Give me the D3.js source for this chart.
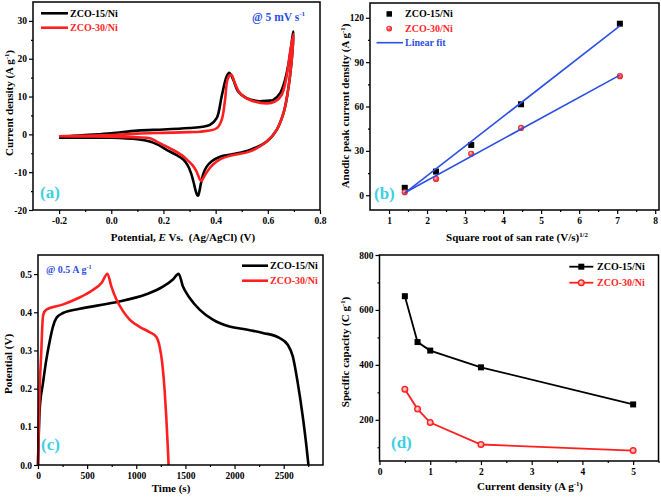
<!DOCTYPE html>
<html><head><meta charset="utf-8">
<script src="https://cdn.jsdelivr.net/npm/d3@7"></script>
<style>
html,body{margin:0;padding:0;background:#fff;}
svg{display:block;}
text{font-family:"Liberation Serif","Times New Roman",serif;font-weight:bold;white-space:pre;}
</style></head>
<body>
<script>
// ---------- DATA ----------
// (a) Cyclic voltammetry @ 5 mV/s (loop: anodic -0.2 -> 0.7, then cathodic 0.7 -> -0.2)
const cvE15 = [-0.2,-0.1,0.0,0.1,0.2,0.3,0.35,0.378,0.404,0.423,0.442,0.452,0.46,0.468,0.487,0.519,0.56,0.6,0.621,0.647,0.666,0.682,0.698,
               0.69,0.675,0.66,0.634,0.596,0.532,0.468,0.417,0.385,0.365,0.352,0.343,0.337,0.333,0.329,0.323,0.316,0.306,0.293,0.275,0.251,0.212,0.18,0.148,0.1,0.0,-0.1,-0.2];
const cvI15 = [-0.7,-0.2,0.3,1.0,1.3,1.7,2.0,2.5,4.3,10.0,15.3,16.3,15.6,14.4,11.3,9.55,8.8,8.9,9.1,10.9,14.4,19.7,27.2,
               18.5,10.5,5.6,1.2,-1.9,-4.1,-5.2,-5.9,-7.1,-8.6,-10.6,-13.2,-15.3,-16.2,-16.0,-14.8,-12.8,-10.3,-8.2,-6.6,-5.5,-4.1,-2.8,-1.9,-1.3,-0.9,-0.9,-0.9];
const cvE30 = [-0.2,-0.1,0.0,0.1,0.2,0.3,0.34,0.404,0.423,0.436,0.445,0.455,0.462,0.474,0.493,0.532,0.596,0.627,0.653,0.672,0.685,0.698,
               0.69,0.675,0.66,0.634,0.596,0.532,0.468,0.417,0.391,0.372,0.358,0.35,0.345,0.34,0.334,0.325,0.312,0.295,0.27,0.225,0.174,0.148,0.1,0.0,-0.1,-0.2];
const cvI30 = [-0.5,-0.35,-0.2,0.2,0.4,0.6,0.7,1.6,3.8,9.1,14.4,15.7,15.6,13.5,10.9,9.1,8.2,8.65,10.4,15.3,21.5,26.5,
               18.5,10.5,5.6,1.2,-1.9,-4.5,-5.45,-6.6,-7.9,-9.4,-10.9,-11.9,-12.3,-12.0,-11.0,-9.6,-8.2,-7.0,-5.5,-3.7,-1.9,-1.0,-0.8,-0.6,-0.55,-0.5];

// (b) Anodic peak current vs square root of scan rate
const sqrtRate = [1.414,2.236,3.162,4.472,7.071];
const ipa15 = [5,16,34,61.5,116];
const ipa30 = [2,11,28,45.5,80.5];
const fitX = [1.414,7.071];
const fit15 = [1.4,114.5];
const fit30 = [1.7,81.2];

// (c) Galvanostatic charge-discharge @ 0.5 A/g
const gcdT15 = [0,17,51,85,119,153,187,254,424,763,1102,1271,1373,1431,1474,1542,1644,1779,1949,2118,2287,2456,2541,2592,2643,2694,2728,2752];
const gcdV15 = [0,0.145,0.215,0.276,0.324,0.363,0.385,0.398,0.409,0.425,0.447,0.467,0.486,0.501,0.468,0.438,0.407,0.381,0.363,0.355,0.346,0.333,0.315,0.285,0.215,0.127,0.057,0];
const gcdT30 = [0,10,20,34,45,55,85,250,400,550,650,706,746,797,865,933,1034,1135,1203,1237,1264,1288,1305,1322,1329];
const gcdV30 = [0,0.13,0.22,0.30,0.37,0.395,0.407,0.42,0.436,0.457,0.478,0.501,0.468,0.434,0.403,0.381,0.362,0.348,0.336,0.311,0.267,0.197,0.127,0.04,0];

// (d) Specific capacity vs current density
const currDens = [0.5,0.75,1,2,5];
const cap15 = [650,483,452,391,256];
const cap30 = [311,239,190,110,88];

// tick labels
const aXT=[-0.2,0,0.2,0.4,0.6,0.8], aYT=[-20,-10,0,10,20,30];
const bXT=[1,2,3,4,5,6,7,8], bYT=[0,30,60,90,120];
const cXT=[0,500,1000,1500,2000,2500], cYT=[0,0.1,0.2,0.3,0.4,0.5];
const dXT=[0,1,2,3,4,5], dYT=[200,400,600,800];

// ---------- STYLE ----------
const BLACK="#000", RED="#ff1f1f", BLUE="#2b4fe3", CYAN="#3fcfe2";
const W=661,H=498;
const svg=d3.select("body").append("svg").attr("width",W).attr("height",H);
const defs=svg.append("defs");
const grad=defs.append("radialGradient").attr("id","sph").attr("cx","50%").attr("cy","50%").attr("r","55%").attr("fx","38%").attr("fy","35%");
grad.append("stop").attr("offset","0%").attr("stop-color","#ffe0e0");
grad.append("stop").attr("offset","45%").attr("stop-color","#ff5050");
grad.append("stop").attr("offset","100%").attr("stop-color","#ee1010");
const ring=defs.append("radialGradient").attr("id","ring").attr("cx","50%").attr("cy","50%").attr("r","50%").attr("fx","40%").attr("fy","38%");
ring.append("stop").attr("offset","0%").attr("stop-color","#ffe8e8");
ring.append("stop").attr("offset","60%").attr("stop-color","#ff9a9a");
ring.append("stop").attr("offset","100%").attr("stop-color","#ff4040");

const hy = f => d => f(d).replace("\u2212","-");

function panel(p){
  const g=svg.append("g");
  const x=d3.scaleLinear().domain(p.xd).range([p.x0,p.x1]);
  const y=d3.scaleLinear().domain(p.yd).range([p.y1,p.y0]);
  const style=s=>{s.select(".domain").remove();s.selectAll("line").attr("stroke","#000").attr("stroke-width",1.2);
    s.selectAll("text").attr("font-size",9.5).attr("fill","#000").style("font-family",'"Liberation Serif","Times New Roman",serif').style("font-weight","bold");};
  g.append("g").attr("transform",`translate(0,${p.y1})`).call(d3.axisBottom(x).tickValues(p.xt).tickSize(4).tickPadding(3).tickFormat(p.xf)).call(style);
  if(p.xm) g.append("g").attr("transform",`translate(0,${p.y1})`).call(d3.axisBottom(x).tickValues(p.xm).tickSize(2).tickFormat("")).call(style);
  g.append("g").attr("transform",`translate(${p.x0},0)`).call(d3.axisLeft(y).tickValues(p.yt).tickSize(4).tickPadding(2).tickFormat(p.yf)).call(style);
  if(p.ym) g.append("g").attr("transform",`translate(${p.x0},0)`).call(d3.axisLeft(y).tickValues(p.ym).tickSize(2).tickFormat("")).call(style);
  const plot=g.append("g");
  const frame=()=>g.append("rect").attr("x",p.x0).attr("y",p.y0).attr("width",p.x1-p.x0).attr("height",p.y1-p.y0)
      .attr("fill","none").attr("stroke","#000").attr("stroke-width",1.5);
  return {g,plot,x,y,frame};
}
function rich(sel, parts, size){
  parts.forEach(pt=>{
    const t=sel.append("tspan").text(pt.t);
    if(pt.sup){t.attr("font-size",size*0.62).attr("dy",-size*0.4);}
    else if(pt.down){t.attr("dy",size*0.4);}
    if(pt.it) t.style("font-style","italic");
  });
}
function title(g,x,y,parts,rot,size=11,fill="#000",anchor="middle"){
  const t=g.append("text").attr("font-size",size).attr("fill",fill).attr("text-anchor",anchor)
    .attr("transform",`translate(${x},${y})${rot?" rotate(-90)":""}`);
  rich(t,parts,size);
  return t;
}
const rng=(a,b,s)=>d3.range(a,b+1e-9,s);

// ---------- (a) ----------
{
  const P=panel({x0:33,x1:320,y0:2,y1:210,xd:[-0.3,0.8],yd:[-20,35],
    xt:aXT,xf:hy(d3.format(".1f")),xm:[-0.1,0.1,0.3,0.5,0.7],
    yt:aYT,yf:d=>String(d),ym:[-15,-5,5,15,25]});
  const line=d3.line().x(d=>P.x(d[0])).y(d=>P.y(d[1])).curve(d3.curveCatmullRom.alpha(0.5));
  P.plot.append("path").datum(d3.zip(cvE15,cvI15)).attr("d",line).attr("fill","none").attr("stroke",BLACK).attr("stroke-width",2.6);
  P.plot.append("path").datum(d3.zip(cvE30,cvI30)).attr("d",line).attr("fill","none").attr("stroke",RED).attr("stroke-width",2.6);
  P.frame();
  // legend
  P.g.append("line").attr("x1",41).attr("x2",68).attr("y1",13.3).attr("y2",13.3).attr("stroke",BLACK).attr("stroke-width",2.6);
  P.g.append("text").attr("x",70).attr("y",17).attr("font-size",10).text("ZCO-15/Ni");
  P.g.append("line").attr("x1",41).attr("x2",68).attr("y1",27.7).attr("y2",27.7).attr("stroke",RED).attr("stroke-width",2.6);
  P.g.append("text").attr("x",70).attr("y",31.4).attr("font-size",10).attr("fill",RED).text("ZCO-30/Ni");
  title(P.g,252,21,[{t:"@ 5 mV s"},{t:"-1",sup:true}],false,11.5,BLUE,"start");
  P.g.append("text").attr("x",40).attr("y",198).attr("font-size",17).attr("fill",CYAN).text("(a)");
  title(P.g,183,241,[{t:"Potential, "},{t:"E",it:true},{t:" Vs.  (Ag/AgCl) (V)"}],false,11);
  title(P.g,13,103,[{t:"Current density (A g"},{t:"-1",sup:true},{t:")",down:true}],true,11);
}

// ---------- (b) ----------
{
  const P=panel({x0:370,x1:659,y0:3,y1:210,xd:[0.5,8.1],yd:[-10,130],
    xt:bXT,xf:d=>String(d),xm:rng(1.5,7.5,1),
    yt:bYT,yf:d=>String(d),ym:[15,45,75,105]});
  P.plot.selectAll(".sq").data(d3.zip(sqrtRate,ipa15)).join("rect")
    .attr("x",d=>P.x(d[0])-3).attr("y",d=>P.y(d[1])-3).attr("width",6).attr("height",6).attr("fill",BLACK);
  P.plot.selectAll(".ci").data(d3.zip(sqrtRate,ipa30)).join("circle")
    .attr("cx",d=>P.x(d[0])).attr("cy",d=>P.y(d[1])).attr("r",3.1).attr("fill","url(#sph)");
  const line=d3.line().x(d=>P.x(d[0])).y(d=>P.y(d[1]));
  P.plot.append("path").datum(d3.zip(fitX,fit15)).attr("d",line).attr("stroke",BLUE).attr("stroke-width",1.6).attr("fill","none");
  P.plot.append("path").datum(d3.zip(fitX,fit30)).attr("d",line).attr("stroke",BLUE).attr("stroke-width",1.6).attr("fill","none");
  P.frame();
  P.g.append("rect").attr("x",386.5).attr("y",11.2).attr("width",5.5).attr("height",5.5).attr("fill",BLACK);
  P.g.append("text").attr("x",405).attr("y",17.3).attr("font-size",10).text("ZCO-15/Ni");
  P.g.append("circle").attr("cx",389.2).attr("cy",28.6).attr("r",2.9).attr("fill","url(#sph)");
  P.g.append("text").attr("x",405).attr("y",31.8).attr("font-size",10).attr("fill",RED).text("ZCO-30/Ni");
  P.g.append("line").attr("x1",376.5).attr("x2",403).attr("y1",42.7).attr("y2",42.7).attr("stroke",BLUE).attr("stroke-width",1.6);
  P.g.append("text").attr("x",405).attr("y",46.3).attr("font-size",10).attr("fill",BLUE).text("Linear fit");
  P.g.append("text").attr("x",374).attr("y",199).attr("font-size",17).attr("fill",CYAN).text("(b)");
  title(P.g,517,241,[{t:"Square root of san rate (V/s)"},{t:"1/2",sup:true}],false,11);
  title(P.g,349,106,[{t:"Anodic peak current density (A g"},{t:"-1",sup:true},{t:")",down:true}],true,11);
}

// ---------- (c) ----------
{
  const P=panel({x0:38,x1:323,y0:255,y1:465,xd:[0,2900],yd:[0,0.55],
    xt:cXT,xf:d=>String(d),xm:rng(250,2750,500),
    yt:cYT,yf:d3.format(".1f")});
  const line=d3.line().x(d=>P.x(d[0])).y(d=>P.y(d[1])).curve(d3.curveMonotoneX);
  P.plot.append("path").datum(d3.zip(gcdT15,gcdV15)).attr("d",line).attr("fill","none").attr("stroke",BLACK).attr("stroke-width",2.6);
  P.plot.append("path").datum(d3.zip(gcdT30,gcdV30)).attr("d",line).attr("fill","none").attr("stroke",RED).attr("stroke-width",2.6);
  P.frame();
  P.g.append("line").attr("x1",242).attr("x2",268).attr("y1",265.7).attr("y2",265.7).attr("stroke",BLACK).attr("stroke-width",2.6);
  P.g.append("text").attr("x",270).attr("y",269.3).attr("font-size",10).text("ZCO-15/Ni");
  P.g.append("line").attr("x1",242).attr("x2",268).attr("y1",280.7).attr("y2",280.7).attr("stroke",RED).attr("stroke-width",2.6);
  P.g.append("text").attr("x",270).attr("y",284.3).attr("font-size",10).attr("fill",RED).text("ZCO-30/Ni");
  title(P.g,46,273,[{t:"@ 0.5 A g"},{t:"-1",sup:true}],false,10,BLUE,"start");
  P.g.append("text").attr("x",41).attr("y",450).attr("font-size",17).attr("fill",CYAN).text("(c)");
  title(P.g,171,492,[{t:"Time (s)"}],false,11);
  title(P.g,12,364,[{t:"Potential (V)"}],true,11);
}

// ---------- (d) ----------
{
  const P=panel({x0:379.5,x1:658.5,y0:255,y1:461,xd:[0,5.5],yd:[50,800],
    xt:dXT,xf:d=>String(d),xm:rng(0.5,5.5,1),
    yt:dYT,yf:d=>String(d),ym:[100,300,500,700]});
  const line=d3.line().x(d=>P.x(d[0])).y(d=>P.y(d[1]));
  P.plot.append("path").datum(d3.zip(currDens,cap15)).attr("d",line).attr("fill","none").attr("stroke",BLACK).attr("stroke-width",1.8);
  P.plot.append("path").datum(d3.zip(currDens,cap30)).attr("d",line).attr("fill","none").attr("stroke",RED).attr("stroke-width",1.8);
  P.plot.selectAll(".sq").data(d3.zip(currDens,cap15)).join("rect")
    .attr("x",d=>P.x(d[0])-3).attr("y",d=>P.y(d[1])-3).attr("width",6).attr("height",6).attr("fill",BLACK);
  P.plot.selectAll(".ci").data(d3.zip(currDens,cap30)).join("circle")
    .attr("cx",d=>P.x(d[0])).attr("cy",d=>P.y(d[1])).attr("r",2.9).attr("fill","url(#ring)").attr("stroke",RED).attr("stroke-width",1.2);
  P.frame();
  P.g.append("line").attr("x1",569.3).attr("x2",593.3).attr("y1",266.7).attr("y2",266.7).attr("stroke",BLACK).attr("stroke-width",1.8);
  P.g.append("rect").attr("x",578.3).attr("y",263.7).attr("width",6).attr("height",6).attr("fill",BLACK);
  P.g.append("text").attr("x",597).attr("y",270).attr("font-size",10).text("ZCO-15/Ni");
  P.g.append("line").attr("x1",569.3).attr("x2",593.3).attr("y1",282.7).attr("y2",282.7).attr("stroke",RED).attr("stroke-width",1.8);
  P.g.append("circle").attr("cx",581.3).attr("cy",282.7).attr("r",2.9).attr("fill","url(#ring)").attr("stroke",RED).attr("stroke-width",1.2);
  P.g.append("text").attr("x",597).attr("y",286).attr("font-size",10).attr("fill",RED).text("ZCO-30/Ni");
  P.g.append("text").attr("x",391).attr("y",448).attr("font-size",17).attr("fill",CYAN).text("(d)");
  title(P.g,530,490,[{t:"Current density (A g"},{t:"-1",sup:true},{t:")",down:true}],false,11);
  title(P.g,349,352,[{t:"Specific capacity (C g"},{t:"-1",sup:true},{t:")",down:true}],true,11);
}
</script>
</body></html>
